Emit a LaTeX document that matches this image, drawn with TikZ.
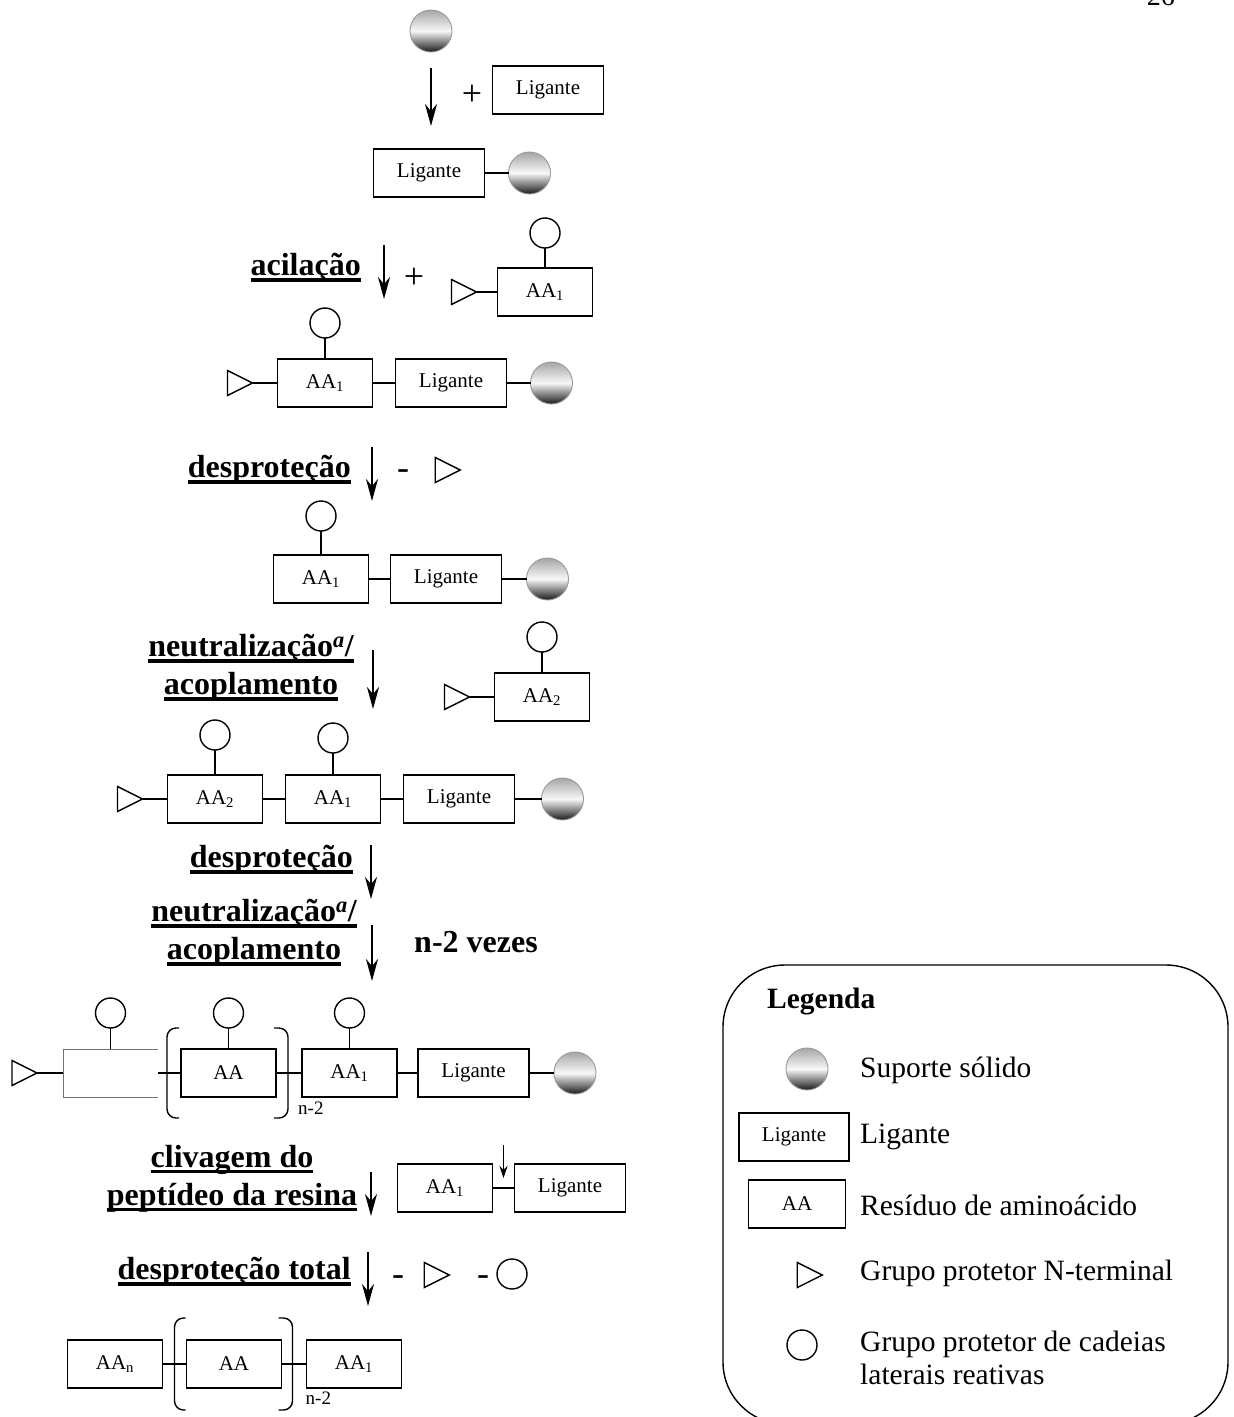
\documentclass[tikz,border=0pt]{standalone}
\usepackage{fontspec}
\setmainfont{Liberation Serif}
\usetikzlibrary{positioning,arrows.meta,calc,shapes.geometric}

\newcommand{\sublinhado}[1]{\sbox0{#1}\rlap{\rule[-0.18em]{\wd0}{0.1em}}\usebox0}

\begin{document}
\begin{tikzpicture}[
    x=1pt, y=-1pt,
    box/.style={draw, line width=1.4pt, minimum height=48pt, inner sep=0pt, outer sep=0pt, font=\fontsize{21}{25}\selectfont},
    aa/.style={box, minimum width=95pt},
    lig/.style={box, minimum width=111pt},
    bead/.style={circle, minimum size=42pt, inner sep=0pt, outer sep=0pt, draw=black!40, line width=0.9pt, top color=black!35, bottom color=black!90, middle color=black!3},
    pg/.style={circle, draw, line width=1.4pt, minimum size=30pt, inner sep=0pt, outer sep=0pt},
    ntri/.style={isosceles triangle, isosceles triangle stretches, draw, line width=1.4pt, minimum width=25pt, minimum height=25pt, inner sep=0pt, outer sep=0pt},
    bond/.style={line width=1.4pt},
    seta/.style={-{Stealth[length=22pt, width=12pt]}, line width=2.2pt},
    lbl/.style={font=\fontsize{32}{38}\selectfont\bfseries, inner sep=0pt, align=center},
    sinal/.style={font=\fontsize{36}{40}\selectfont, inner sep=0pt},
    leg/.style={font=\fontsize{29.5}{33}\selectfont, inner sep=0pt, anchor=west, align=left},
    brk/.style={line width=1.4pt, rounded corners=9pt}
  ]
    \useasboundingbox (0,0) rectangle (1234,1417);
    \node[font=\fontsize{28}{32}\selectfont, inner sep=0pt, anchor=base east] (pag) at (1175,5) {26};

    % suporte + ligante
    \node[bead] (s0) at (431,31) {};
    \coordinate (a0s) at (431,68);
    \coordinate (a0e) at (431,126);
    \draw[seta] (a0s) -- (a0e);
    \node[sinal] (p0) at (472,95) {+};
    \node[lig] (l0) at (548,90) {Ligante};

    \node[lig] (l1) at (429,173) {Ligante};
    \node[bead, right=24pt of l1] (s1) {};
    \draw[bond] (l1) -- (s1);

    % acilacao
    \node[lbl, anchor=east] (acil) at (361,268) {\sublinhado{acilação}};
    \coordinate (a1s) at (384,245);
    \coordinate (a1e) at (384,299);
    \draw[seta] (a1s) -- (a1e);
    \node[sinal] (p1) at (414,278) {+};
    \node[aa] (f1) at (545,292) {AA\textsubscript{1}};
    \node[ntri, left=21pt of f1] (ft1) {};
    \node[pg, above=20pt of f1] (fg1) {};
    \draw[bond] (ft1) -- (f1);
    \draw[bond] (fg1) -- (f1);

    \node[aa] (r2a) at (325,383) {AA\textsubscript{1}};
    \node[ntri, left=25pt of r2a] (r2t) {};
    \node[pg, above=21pt of r2a] (r2g) {};
    \node[lig, right=23pt of r2a] (r2l) {Ligante};
    \node[bead, right=24pt of r2l] (r2s) {};
    \draw[bond] (r2t) -- (r2a);
    \draw[bond] (r2g) -- (r2a);
    \draw[bond] (r2a) -- (r2l);
    \draw[bond] (r2l) -- (r2s);

    % desprotecao
    \node[lbl, anchor=east] (desp1) at (351,470) {\sublinhado{desproteção}};
    \coordinate (a2s) at (372,447);
    \coordinate (a2e) at (372,501);
    \draw[seta] (a2s) -- (a2e);
    \node[sinal] (m2) at (403,475) {-};
    \node[ntri] (t2) at (443,470) {};

    \node[aa] (r3a) at (321,579) {AA\textsubscript{1}};
    \node[pg, above=24pt of r3a] (r3g) {};
    \node[lig, right=22pt of r3a] (r3l) {Ligante};
    \node[bead, right=25pt of r3l] (r3s) {};
    \draw[bond] (r3g) -- (r3a);
    \draw[bond] (r3a) -- (r3l);
    \draw[bond] (r3l) -- (r3s);

    % neutralizacao / acoplamento
    \node[lbl] (neut1) at (251,668) {\sublinhado{neutralização\textsuperscript{\textit{a}}/}\\\sublinhado{acoplamento}};
    \coordinate (a3s) at (373,650);
    \coordinate (a3e) at (373,709);
    \draw[seta] (a3s) -- (a3e);
    \node[aa] (f2) at (542,697) {AA\textsubscript{2}};
    \node[ntri, left=25pt of f2] (ft2) {};
    \node[pg, above=21pt of f2] (fg2) {};
    \draw[bond] (ft2) -- (f2);
    \draw[bond] (fg2) -- (f2);

    \node[aa] (r4b) at (215,799) {AA\textsubscript{2}};
    \node[ntri, left=25pt of r4b] (r4t) {};
    \node[pg, above=25pt of r4b] (r4h) {};
    \node[aa, right=23pt of r4b] (r4a) {AA\textsubscript{1}};
    \node[pg, above=22pt of r4a] (r4g) {};
    \node[lig, right=23pt of r4a] (r4l) {Ligante};
    \node[bead, right=27pt of r4l] (r4s) {};
    \draw[bond] (r4t) -- (r4b);
    \draw[bond] (r4h) -- (r4b);
    \draw[bond] (r4b) -- (r4a);
    \draw[bond] (r4g) -- (r4a);
    \draw[bond] (r4a) -- (r4l);
    \draw[bond] (r4l) -- (r4s);

    % ciclo n-2
    \node[lbl, anchor=east] (desp2) at (353,860) {\sublinhado{desproteção}};
    \coordinate (a4s) at (371,845);
    \coordinate (a4e) at (371,899);
    \draw[seta] (a4s) -- (a4e);
    \node[lbl] (neut2) at (254,933) {\sublinhado{neutralização\textsuperscript{\textit{a}}/}\\\sublinhado{acoplamento}};
    \coordinate (a5s) at (372,925);
    \coordinate (a5e) at (372,981);
    \draw[seta] (a5s) -- (a5e);
    \node[lbl] (vezes) at (476,942) {n-2 vezes};

    \node[box, draw=none, minimum width=95pt] (r5o) at (110.5,1073) {};
    \draw[line width=0.9pt, black!55] (r5o.north east) -- (r5o.north west) -- (r5o.south west) -- (r5o.south east);
    \node[ntri, left=26pt of r5o] (r5t) {};
    \node[pg, above=21pt of r5o] (r5h) {};
    \node[aa, right=23pt of r5o] (r5m) {AA};
    \node[pg, above=21pt of r5m] (r5k) {};
    \node[aa, right=26pt of r5m] (r5a) {AA\textsubscript{1}};
    \node[pg, above=21pt of r5a] (r5g) {};
    \node[lig, right=21pt of r5a] (r5l) {Ligante};
    \node[bead, right=25pt of r5l] (r5s) {};
    \draw[bond] (r5t) -- (r5o);
    \draw[bond] (r5h) -- (r5o.north);
    \draw[bond] (r5o) -- (r5m);
    \draw[bond] (r5k) -- (r5m);
    \draw[bond] (r5m) -- (r5a);
    \draw[bond] (r5g) -- (r5a);
    \draw[bond] (r5a) -- (r5l);
    \draw[bond] (r5l) -- (r5s);
    \draw[brk] ($(r5m.north west)+(-2pt,21pt)$) -| ($(r5m.west)+(-14pt,0pt)$) |- ($(r5m.south west)+(-2pt,-21pt)$);
    \draw[brk] ($(r5m.north east)+(-2pt,21pt)$) -| ($(r5m.east)+(12pt,0pt)$) |- ($(r5m.south east)+(-2pt,-21pt)$);
    \node[font=\fontsize{19}{22}\selectfont, inner sep=0pt, anchor=west] (r5n) at ($(r5m.south east)+(22pt,-11pt)$) {n-2};

    % clivagem
    \node[lbl] (cliv) at (232,1179) {\sublinhado{clivagem do}\\\sublinhado{peptídeo da resina}};
    \coordinate (a6s) at (371,1172);
    \coordinate (a6e) at (371,1216);
    \draw[seta] (a6s) -- (a6e);
    \node[aa] (c1) at (445,1188) {AA\textsubscript{1}};
    \node[lig, right=22pt of c1] (c2) {Ligante};
    \draw[bond] (c1) -- (c2);
    \coordinate (corte) at ($(c1.east)!0.5!(c2.west)$);
    \coordinate (cs) at ($(corte)+(0pt,43pt)$);
    \coordinate (ce) at ($(corte)+(0pt,10pt)$);
    \draw[-{Stealth[length=12pt, width=8pt]}, line width=1.3pt] (cs) -- (ce);

    % desprotecao total
    \node[lbl, anchor=east] (desp3) at (351,1272) {\sublinhado{desproteção total}};
    \coordinate (a7s) at (368,1252);
    \coordinate (a7e) at (368,1306);
    \draw[seta] (a7s) -- (a7e);
    \node[sinal] (m7) at (398,1281) {-};
    \node[ntri] (t7) at (432,1275) {};
    \node[sinal] (m8) at (483,1281) {-};
    \node[pg] (g7) at (512,1274) {};

    \node[aa] (e1) at (115,1364) {AA\textsubscript{n}};
    \node[aa, right=24pt of e1] (e2) {AA};
    \node[aa, right=25pt of e2] (e3) {AA\textsubscript{1}};
    \draw[bond] (e1) -- (e2);
    \draw[bond] (e2) -- (e3);
    \draw[brk] ($(e2.north west)+(-1pt,22pt)$) -| ($(e2.west)+(-12pt,0pt)$) |- ($(e2.south west)+(-1pt,-22pt)$);
    \draw[brk] ($(e2.north east)+(-3pt,22pt)$) -| ($(e2.east)+(11pt,0pt)$) |- ($(e2.south east)+(-3pt,-22pt)$);
    \node[font=\fontsize{19}{22}\selectfont, inner sep=0pt, anchor=west] (e2n) at ($(e2.south east)+(24pt,-10pt)$) {n-2};

    % legenda
    \draw[line width=1.4pt, rounded corners=62pt] (723,965) rectangle (1228,1424);
    \node[font=\fontsize{29.5}{33}\selectfont\bfseries, inner sep=0pt, anchor=west] (legt) at (767,1002) {Legenda};
    \node[bead] (ls) at (807,1069) {};
    \node[leg] (lst) at (860,1070) {Suporte sólido};
    \node[lig, minimum width=110pt] (ll) at (794,1137) {Ligante};
    \node[leg] (llt) at (860,1137) {Ligante};
    \node[aa, minimum width=97pt] (la) at (797,1204) {AA};
    \node[leg] (lat) at (860,1205) {Resíduo de aminoácido};
    \node[ntri] (lt) at (805,1275) {};
    \node[leg] (ltt) at (860,1273) {Grupo protetor N-terminal};
    \node[pg] (lg) at (802,1345) {};
    \node[leg] (lgt) at (860,1358) {Grupo protetor de cadeias\\laterais reativas};
  \end{tikzpicture}
\end{document}
